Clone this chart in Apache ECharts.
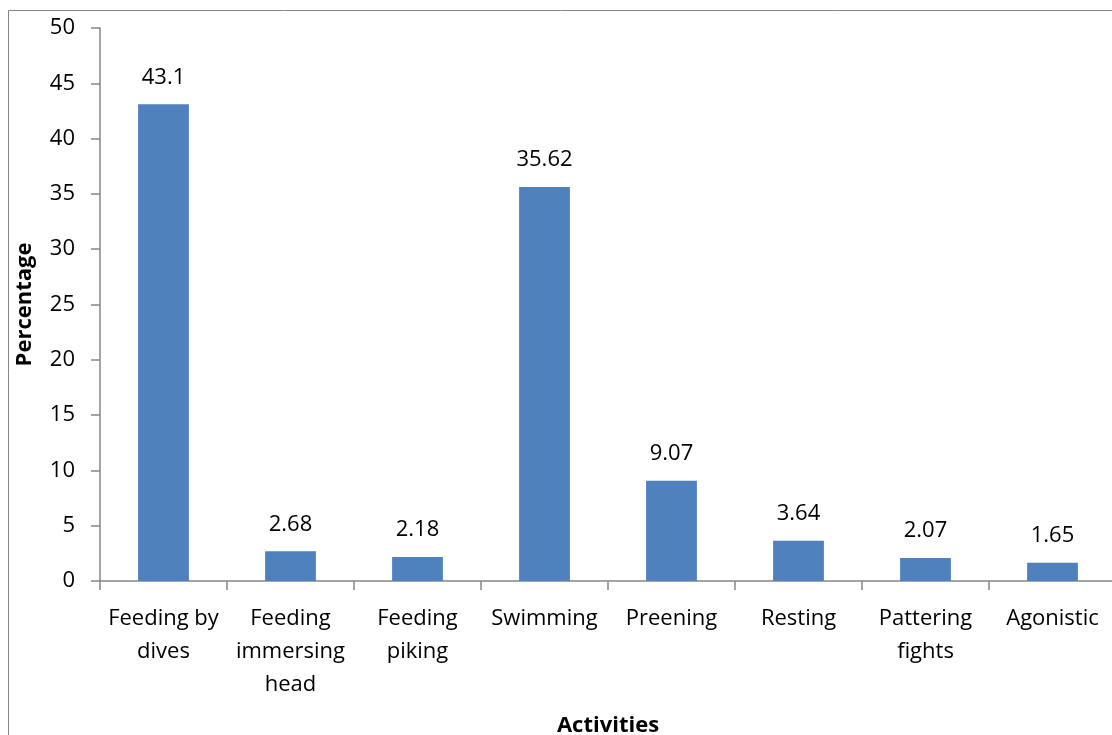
<!DOCTYPE html>
<html>
<head>
<meta charset="utf-8">
<script src="https://cdn.jsdelivr.net/npm/echarts@6/dist/echarts.min.js"></script>
<style>
  html, body { margin: 0; padding: 0; background: #fff; }
  #chart { width: 1112px; height: 735px; }
</style>
</head>
<body>
<div id="chart"></div>
<script>
// Time budget by activity (percentage of observations)
const categories = [
  'Feeding by\ndives', 'Feeding\nimmersing\nhead', 'Feeding\npiking', 'Swimming',
  'Preening', 'Resting', 'Pattering\nfights', 'Agonistic'
];
const percentages = [43.1, 2.68, 2.18, 35.62, 9.07, 3.64, 2.07, 1.65];
const yTicks = [0, 5, 10, 15, 20, 25, 30, 35, 40, 45, 50];

const FONT = '"Open Sans", "Noto Sans", sans-serif';
const chart = echarts.init(document.getElementById('chart'), null, { renderer: 'canvas' });

chart.setOption({
  animation: false,
  backgroundColor: '#ffffff',
  graphic: [{
    type: 'rect',
    shape: { x: 8.5, y: 10.5, width: 1120, height: 740 },
    style: { fill: 'none', stroke: '#868686', lineWidth: 1 },
    silent: true
  }],
  grid: { left: 100, right: -4, top: 28, bottom: 154, containLabel: false, outerBoundsMode: 'none' },
  xAxis: {
    type: 'category',
    data: categories,
    name: 'Activities',
    nameLocation: 'middle',
    nameGap: 134,
    nameTextStyle: { fontFamily: FONT, fontSize: 22, fontWeight: 'bold', color: '#000' },
    axisLine: { lineStyle: { color: '#868686', width: 1.5 } },
    axisTick: { show: true, length: 9, alignWithLabel: false, lineStyle: { color: '#868686', width: 1.5 } },
    axisLabel: {
      fontFamily: FONT, fontSize: 22, color: '#000', lineHeight: 33, margin: 21, interval: 0
    }
  },
  yAxis: {
    type: 'value',
    min: yTicks[0],
    max: yTicks[yTicks.length - 1],
    interval: yTicks[1] - yTicks[0],
    name: 'Percentage',
    nameLocation: 'middle',
    nameGap: 64,
    nameTextStyle: { fontFamily: FONT, fontSize: 22, fontWeight: 'bold', color: '#000' },
    splitLine: { show: false },
    axisLine: { show: true, lineStyle: { color: '#868686', width: 1.5 } },
    axisTick: { show: true, length: 9, lineStyle: { color: '#868686', width: 1.5 } },
    axisLabel: { fontFamily: FONT, fontSize: 22, color: '#000', margin: 25 }
  },
  series: [{
    type: 'bar',
    data: percentages,
    barWidth: '40%',
    itemStyle: { color: '#4F81BD' },
    label: {
      show: true,
      position: 'top',
      distance: 16,
      fontFamily: FONT,
      fontSize: 22,
      color: '#000',
      formatter: p => String(p.value)
    }
  }]
});
</script>
</body>
</html>
